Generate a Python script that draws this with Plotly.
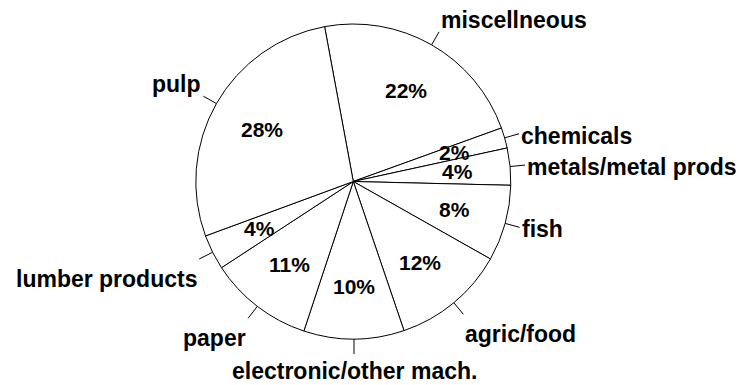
import math
import plotly.graph_objects as go

# Shares by sector (percent)
categories = [
    "miscellneous",
    "chemicals",
    "metals/metal prods",
    "fish",
    "agric/food",
    "electronic/other mach.",
    "paper",
    "lumber products",
    "pulp",
]
shares = [22.4, 2.1, 3.8, 7.8, 11.6, 10.3, 10.7, 3.6, 27.7]

# Page geometry (pixels)
W, H = 743, 385
CX, CY, R = 353.3, 181.5, 157.5
START = -10.5          # first slice starts this many degrees from 12 o'clock
TICK = 15              # leader tick length outside the rim
PCT_R = 105            # radius of the percentage labels

FONT = "Liberation Sans, Arial, sans-serif"
LABEL_YSHIFT = {"top": -5, "bottom": -3, "middle": -2}


def to_paper(px, py):
    return px / W, 1 - py / H


def polar(angle_deg, r):
    a = math.radians(angle_deg)
    return CX + r * math.sin(a), CY - r * math.cos(a)


fig = go.Figure(
    go.Pie(
        labels=categories,
        values=shares,
        sort=False,
        direction="clockwise",
        rotation=START,
        marker=dict(colors=["white"] * len(shares), line=dict(color="black", width=1)),
        textinfo="none",
        hoverinfo="label+percent",
        showlegend=False,
        domain=dict(
            x=[(CX - R) / W, (CX + R) / W],
            y=[(H - CY - R) / H, (H - CY + R) / H],
        ),
    )
)

total = sum(shares)
shapes, annotations = [], []
cum = 0.0
for name, v in zip(categories, shares):
    mid = START + 360.0 * (cum + v / 2) / total
    cum += v
    s, c = math.sin(math.radians(mid)), math.cos(math.radians(mid))

    # leader tick at the middle of the slice
    x0, y0 = to_paper(*polar(mid, R))
    x1, y1 = to_paper(*polar(mid, R + TICK))
    shapes.append(dict(type="line", xref="paper", yref="paper",
                       x0=x0, y0=y0, x1=x1, y1=y1,
                       line=dict(color="black", width=1)))

    # category label at the end of the tick
    xanchor = "center" if abs(s) < 0.2 else ("left" if s > 0 else "right")
    yanchor = "middle" if abs(c) < 0.35 else ("bottom" if c > 0 else "top")
    yshift = LABEL_YSHIFT[yanchor]
    if xanchor == "center" and yanchor == "top":
        yshift = -2    # keep the bottom label inside the page
    annotations.append(dict(x=x1, y=y1, xref="paper", yref="paper",
                            text=name, showarrow=False,
                            xanchor=xanchor, yanchor=yanchor,
                            yshift=yshift,
                            font=dict(family=FONT, size=23, color="black", weight="bold")))

    # percentage inside the slice
    px, py = to_paper(*polar(mid, PCT_R))
    annotations.append(dict(x=px, y=py, xref="paper", yref="paper",
                            text=f"{v:.0f}%", showarrow=False,
                            xanchor="center", yanchor="middle",
                            font=dict(family=FONT, size=21, color="black", weight="bold")))

fig.update_layout(
    width=W,
    height=H,
    margin=dict(l=0, r=0, t=0, b=0),
    paper_bgcolor="white",
    plot_bgcolor="white",
    shapes=shapes,
    annotations=annotations,
)

fig.write_html("out.html")
